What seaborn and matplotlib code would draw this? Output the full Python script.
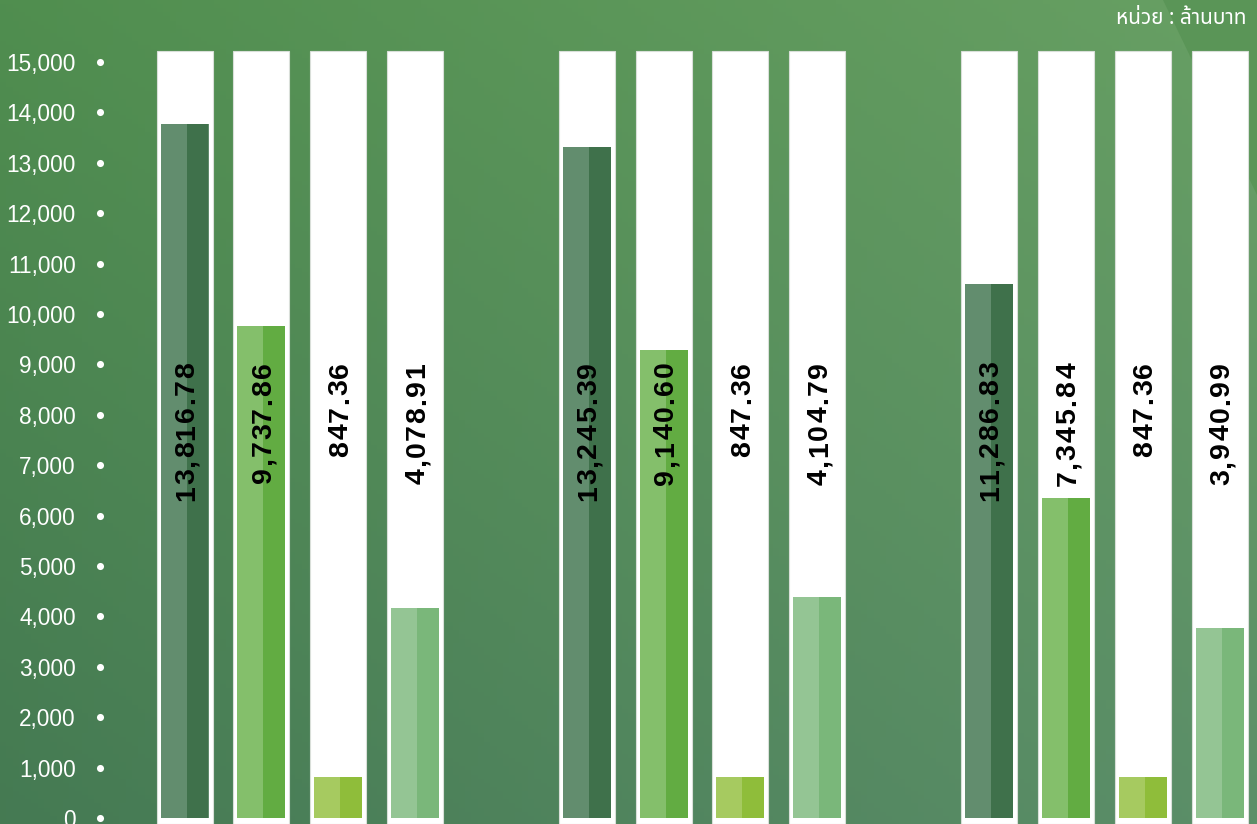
import numpy as np
import pandas as pd
import matplotlib
matplotlib.use("Agg")
import matplotlib.pyplot as plt
import seaborn as sns
from matplotlib import font_manager as fm
from matplotlib.ft2font import FT2Font
from matplotlib.font_manager import FontProperties
from matplotlib.colors import to_rgb
from matplotlib.patches import Polygon
from matplotlib.transforms import blended_transform_factory

# ---------------- data ----------------
groups = ["กลุ่ม 1", "กลุ่ม 2", "กลุ่ม 3"]
series = ["ชุด 1", "ชุด 2", "ชุด 3", "ชุด 4"]
label_values = [
    [13816.78, 9737.86, 847.36, 4078.91],
    [13245.39, 9140.60, 847.36, 4104.79],
    [11286.83, 7345.84, 847.36, 3940.99],
]
bar_heights = [
    [13770, 9760, 815, 4170],
    [13310, 9290, 815, 4390],
    [10600, 6350, 815, 3770],
]
column_top = 15220
y_ticks = list(range(0, 15001, 1000))
unit_text = "หน่วย : ล้านบาท"

left_colors = ["#628d6e", "#84bf6b", "#a6ca60", "#94c594"]
right_colors = ["#3f714b", "#62ac42", "#8fbd3a", "#7ab77a"]

# ---------------- fonts ----------------
def pick_thai_font():
    names = {f.name for f in fm.fontManager.ttflist}
    for n in ["Noto Sans Thai", "IBM Plex Sans Thai", "Kanit", "Prompt", "Sarabun",
              "Bai Jamjuree", "Athiti"]:
        if n in names:
            return n
    for f in fm.fontManager.ttflist:
        try:
            if ord("ห") in FT2Font(f.fname).get_charmap():
                return f.name
        except Exception:
            pass
    return None

thai_font = pick_thai_font()

sns.set_style("white")
plt.rcParams["font.family"] = ["Liberation Sans", "DejaVu Sans"]

W, H = 1257, 824
DPI = 100
fig = plt.figure(figsize=(W / DPI, H / DPI), dpi=DPI)

# ---------------- background ----------------
bg = fig.add_axes([0, 0, 1, 1])
bg.set_axis_off()
tl, tr = np.array(to_rgb("#508e4f")), np.array(to_rgb("#68a064"))
bl, br = np.array(to_rgb("#457a53")), np.array(to_rgb("#5c8f69"))
xx = np.linspace(0, 1, 200)[None, :, None]
yy = np.linspace(0, 1, 200)[:, None, None]
top = tl * (1 - xx) + tr * xx
bot = bl * (1 - xx) + br * xx
img = top * (1 - yy) + bot * yy
bg.imshow(img, extent=[0, 1, 0, 1], aspect="auto", origin="upper")
bg.add_patch(Polygon([(1163 / W, 1), (1, 1), (1, 1 - 195 / H)], closed=True,
                     facecolor="#5a9557", edgecolor="none", transform=bg.transAxes))
bg.set_xlim(0, 1)
bg.set_ylim(0, 1)

# ---------------- main axes ----------------
ax = fig.add_axes([100 / W, 0, 1 - 100 / W, 1])
ax.set_facecolor("none")

pitch_px = 76.9
group_step = 5.23
positions = np.array([[g * group_step + i for i in range(4)] for g in range(3)])

y_per_px = 15000 / 756.0
ylo = -6 * y_per_px
yhi = (H - 6) * y_per_px
ax.set_ylim(ylo, yhi)
x0 = -(184.5 - 100) / pitch_px
x1 = x0 + (W - 100) / pitch_px
ax.set_xlim(x0, x1)

# white columns
ax.bar(positions.ravel(), column_top - ylo, bottom=ylo, width=56 / pitch_px,
       color="white", edgecolor="#d9dfd9", linewidth=0.8, zorder=1)

# two-tone coloured bars: full bar in the light tone, right part in the dark tone
lw, rw = 26 / pitch_px, 22 / pitch_px
full = lw + rw
rows_l, rows_r = [], []
for g in range(3):
    for i in range(4):
        p = positions[g, i]
        rows_l.append({"x": p, "value": bar_heights[g][i], "series": series[i]})
        rows_r.append({"x": p - full / 2 + lw + rw / 2, "value": bar_heights[g][i], "series": series[i]})
df_l = pd.DataFrame(rows_l)
df_r = pd.DataFrame(rows_r)
sns.barplot(data=df_l, x="x", y="value", hue="series", native_scale=True, dodge=False,
            palette=dict(zip(series, left_colors)), saturation=1, width=full, errorbar=None,
            legend=False, linewidth=0, zorder=2, ax=ax)
sns.barplot(data=df_r, x="x", y="value", hue="series", native_scale=True, dodge=False,
            palette=dict(zip(series, right_colors)), saturation=1, width=rw, errorbar=None,
            legend=False, linewidth=0, zorder=2.1, ax=ax)

# value labels: rotated, drawn glyph by glyph with a little letter spacing
lab_size = 20.5
lab_prop = FontProperties(family="Liberation Sans", weight="bold", size=lab_size)
lab_font = FT2Font(fm.findfont(lab_prop), hinting_factor=1)
lab_font.set_size(lab_size, DPI)
em_px = lab_size * DPI / 72.0

def advance_px(ch):
    a = lab_font.load_char(ord(ch)).horiAdvance / 64.0
    if not (0.15 * em_px < a < 1.0 * em_px):
        a = (0.556 if ch.isdigit() else 0.278) * em_px
    return a

tracking_px = 1.7
label_top_px = 362.0
x_shift = 2.5 / pitch_px
for g in range(3):
    for i in range(4):
        s = f"{label_values[g][i]:,.2f}"
        cur = label_top_px
        for ch in reversed(s):
            a = advance_px(ch)
            centre_px = cur + a / 2
            ax.text(positions[g, i] + x_shift, (818 - centre_px) * y_per_px, ch,
                    rotation=90, ha="center", va="center", fontproperties=lab_prop,
                    color="black", zorder=3)
            cur += a + tracking_px

ax.set_xlim(x0, x1)
ax.set_ylim(ylo, yhi)

# y axis
ax.set_yticks(y_ticks)
ax.set_yticklabels([f"{t:,}" for t in y_ticks], family="Liberation Sans")
ax.tick_params(axis="y", length=0, pad=24 * 0.72, labelsize=16.3, labelcolor="white")
ax.set_xticks([])
ax.set_xlabel("")
ax.set_ylabel("")
for s in ax.spines.values():
    s.set_visible(False)
ax.grid(False)
trans = blended_transform_factory(ax.transAxes, ax.transData)
ax.scatter(np.zeros(len(y_ticks)), y_ticks, s=26, color="white", transform=trans,
           clip_on=False, zorder=4, linewidths=0)

# unit text
fam = [thai_font, "DejaVu Sans"] if thai_font else ["DejaVu Sans"]
fig.text(1247 / W, 1 - 18 / H, unit_text, ha="right", va="center", color="white",
         fontsize=15, fontweight="semibold", family=fam)

fig.savefig("out.png", dpi=DPI)
